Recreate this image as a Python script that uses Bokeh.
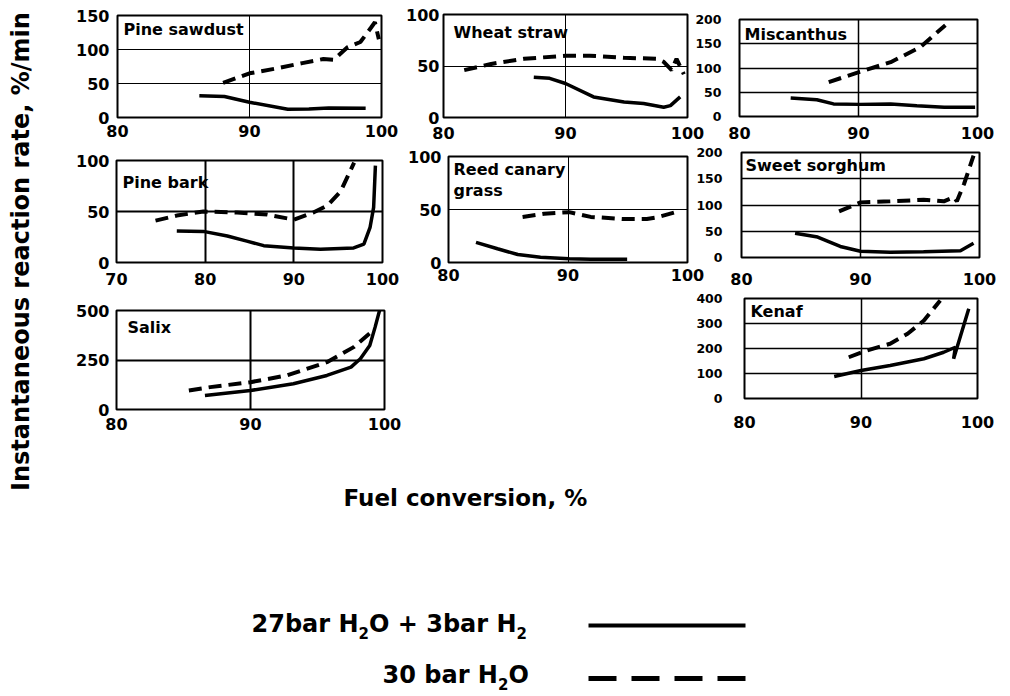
import math
from bokeh.plotting import figure
from bokeh.models import Range1d, FixedTicker, Column
from bokeh.core.properties import value
from bokeh.embed import file_html
from bokeh.resources import INLINE

FONT = "DejaVu Sans"

# ---------------- data (fuel conversion %, rate %/min) ----------------
# "mix" = 27bar H2O + 3bar H2 (solid), "h2o" = 30 bar H2O (dashed)
pine_sawdust_mix_x = [86.2, 88.1, 90.0, 92.9, 94.5, 96.0, 98.8]
pine_sawdust_mix_y = [32, 31, 22.5, 12, 12.5, 14, 13.7]
pine_sawdust_h2o_x = [88.0, 90.0, 92.0, 94.0, 95.6, 96.4, 97.4, 98.4, 99.2, 99.5, 99.8]
pine_sawdust_h2o_y = [51, 65, 72, 80, 86, 85, 103, 111, 132, 140, 115]

wheat_straw_mix_x = [87.4, 88.7, 90.0, 92.3, 94.8, 96.4, 98.05, 98.6, 99.4]
wheat_straw_mix_y = [39, 38, 33, 20, 15, 13.5, 10, 11.5, 20]
wheat_straw_h2o_x = [81.7, 83.9, 86.6, 90.0, 92.0, 94.8, 97.5, 98.05, 98.7, 99.1, 99.7]
wheat_straw_h2o_y = [46, 52, 57, 60, 60, 58, 57, 54, 46, 57, 42]

miscanthus_mix_x = [84.3, 86.5, 87.9, 90.1, 92.7, 94.9, 97.2, 99.8]
miscanthus_mix_y = [38, 34.5, 26, 25, 26, 22, 19, 19]
miscanthus_h2o_x = [87.5, 90.1, 92.7, 95.2, 96.3, 97.3]
miscanthus_h2o_y = [71, 92, 112, 143, 167, 188]

pine_bark_mix_x = [76.8, 79.8, 82.5, 84.7, 86.6, 90.0, 93.0, 96.75, 97.9, 98.6, 99.0, 99.2]
pine_bark_mix_y = [31, 30.5, 26, 21, 16.5, 14.3, 13, 14.3, 18, 34.5, 54, 95]
pine_bark_h2o_x = [74.4, 76.8, 79.8, 83.6, 87.0, 90.0, 92.2, 93.8, 95.3, 96.8]
pine_bark_h2o_y = [41, 46, 50, 49, 47, 42, 49, 56, 70, 98]

reed_mix_x = [82.3, 84.1, 85.8, 87.7, 90.1, 91.9, 94.95]
reed_mix_y = [19, 13, 7.5, 5, 3.5, 3, 3]
reed_h2o_x = [86.2, 88.0, 90.1, 91.9, 94.7, 96.6, 97.4, 99.0]
reed_h2o_y = [43, 46, 47.5, 43, 41, 41, 42.5, 47.5]

sorghum_mix_x = [84.5, 86.4, 88.3, 90.0, 92.5, 95.3, 98.4, 99.5]
sorghum_mix_y = [46, 39, 21, 12, 10, 11, 13, 27]
sorghum_h2o_x = [88.2, 90.0, 92.5, 95.3, 97.0, 97.85, 98.1, 98.7, 99.5]
sorghum_h2o_y = [88, 105, 107, 110, 107, 115, 107, 140, 194]

salix_mix_x = [86.6, 90.0, 93.2, 95.7, 97.5, 98.2, 98.9, 99.3, 99.65]
salix_mix_y = [71, 96, 130, 172, 214, 256, 323, 416, 505]
salix_h2o_x = [85.4, 87.0, 90.0, 92.7, 95.7, 97.7, 98.9]
salix_h2o_y = [96, 113, 138, 172, 239, 315, 385]

kenaf_mix_x = [87.7, 90.0, 92.5, 95.4, 97.1, 98.1, 97.95, 99.25]
kenaf_mix_y = [88, 112, 132, 159, 185, 205, 159, 359]
kenaf_h2o_x = [88.95, 90.5, 92.5, 94.0, 95.4, 96.8]
kenaf_h2o_y = [165, 192, 219, 259, 312, 392]

panel_titles = ["Pine sawdust", "Wheat straw", "Miscanthus", "Pine bark",
                "Reed canary\ngrass", "Sweet sorghum", "Salix", "Kenaf"]
x_title = "Fuel conversion, %"
y_title = "Instantaneous reaction rate, %/min"

# ---------------- layout spec ----------------
BL, BR, BT, BB = 60, 25, 12, 42

panels = [
    dict(mix=(pine_sawdust_mix_x, pine_sawdust_mix_y), h2o=(pine_sawdust_h2o_x, pine_sawdust_h2o_y),
         xr=(80, 100), yr=(0, 150), xt=[80, 90, 100], yt=[0, 50, 100, 150],
         frame=(117, 15, 381, 117), ys="16px", yso=2, xso=1, gw=1),
    dict(mix=(wheat_straw_mix_x, wheat_straw_mix_y), h2o=(wheat_straw_h2o_x, wheat_straw_h2o_y),
         xr=(80, 100), yr=(0, 100), xt=[80, 90, 100], yt=[0, 50, 100],
         frame=(443, 14, 687, 117), ys="16px", yso=-2, xso=3, gw=1),
    dict(mix=(miscanthus_mix_x, miscanthus_mix_y), h2o=(miscanthus_h2o_x, miscanthus_h2o_y),
         xr=(80, 100), yr=(0, 200), xt=[80, 90, 100], yt=[0, 50, 100, 150, 200],
         frame=(739, 19, 977, 116), ys="12.5px", yso=12, xso=4, gw=1.5),
    dict(mix=(pine_bark_mix_x, pine_bark_mix_y), h2o=(pine_bark_h2o_x, pine_bark_h2o_y),
         xr=(70, 100), yr=(0, 100), xt=[70, 80, 90, 100], yt=[0, 50, 100],
         frame=(116, 160, 382, 262), ys="16px", yso=1, xso=4, gw=2),
    dict(mix=(reed_mix_x, reed_mix_y), h2o=(reed_h2o_x, reed_h2o_y),
         xr=(80, 100), yr=(0, 100), xt=[80, 90, 100], yt=[0, 50, 100],
         frame=(448, 156, 687, 262), ys="16px", yso=1, xso=0, gw=1),
    dict(mix=(sorghum_mix_x, sorghum_mix_y), h2o=(sorghum_h2o_x, sorghum_h2o_y),
         xr=(80, 100), yr=(0, 200), xt=[80, 90, 100], yt=[0, 50, 100, 150, 200],
         frame=(741, 152, 979, 257), ys="12.5px", yso=13, xso=9, gw=1.5),
    dict(mix=(salix_mix_x, salix_mix_y), h2o=(salix_h2o_x, salix_h2o_y),
         xr=(80, 100), yr=(0, 500), xt=[80, 90, 100], yt=[0, 250, 500],
         frame=(116, 310, 384, 409), ys="16px", yso=1, xso=2, gw=2),
    dict(mix=(kenaf_mix_x, kenaf_mix_y), h2o=(kenaf_h2o_x, kenaf_h2o_y),
         xr=(80, 100), yr=(0, 400), xt=[80, 90, 100], yt=[0, 100, 200, 300, 400],
         frame=(744, 298, 977, 398), ys="12.5px", yso=16, xso=11, gw=1.5),
]

# ---------------- background figure (titles, legend) ----------------
# Canvas is 1010 wide with borders BL/BR (the column aligns left/right borders),
# shifted left by BL so that its frame starts at page x = 0 and maps page pixels 1:1.
FW = 1010 - BL - BR
bg = figure(width=1010, height=696, x_range=Range1d(0, FW), y_range=Range1d(696, 0),
            x_axis_type=None, y_axis_type=None, output_backend="svg", toolbar_location=None,
            min_border_left=BL, min_border_right=BR, min_border_top=0, min_border_bottom=0,
            outline_line_color=None, background_fill_color="white",
            border_fill_color="white", title=None)
bg.grid.visible = False


def txt(x, y, s, size_px, align="left", angle=0.0):
    # y is the text baseline in page pixels; drawn with a "middle" baseline
    bg.text(x=[x], y=[y - 0.36 * size_px], text=[s], text_font=value(FONT), text_font_style="bold",
            text_font_size=f"{size_px}px", text_align=align, text_baseline="middle",
            angle=angle, text_color="black")


# panel titles (page pixel positions: left, baseline)
title_pos = [(123, 35), (453, 38), (744, 40), (122, 188), (453, 175), (745, 171), (127, 333), (750, 317)]
for t, (tx, ty) in zip(panel_titles, title_pos):
    for i, ln in enumerate(t.split("\n")):
        txt(tx, ty + i * 21, ln, 16)

# axis titles
bg.text(x=[20], y=[251], text=[y_title], text_font=value(FONT), text_font_style="bold",
        text_font_size="24px", text_align="center", text_baseline="middle",
        angle=math.pi / 2, text_color="black")
txt(343, 506, x_title, 23)

# legend
txt(251, 632, "27bar H", 24)
txt(358, 638, "2", 15)
txt(368.5, 632, "O + 3bar H", 24)
txt(516, 638, "2", 15)
txt(382, 683, "30 bar H", 24)
txt(497.5, 689, "2", 15)
txt(508, 683, "O", 24)
bg.segment(x0=[588], y0=[625], x1=[745], y1=[625], line_color="black", line_width=4)
bg.segment(x0=[588], y0=[678], x1=[745], y1=[678], line_color="black", line_width=5,
           line_dash="28 15")
bg.styles = {"position": "absolute", "left": f"{-BL}px", "top": "0px"}

children = [bg]
for spec in panels:
    L, T, R, B = spec["frame"]
    p = figure(x_range=Range1d(*spec["xr"]), y_range=Range1d(*spec["yr"]),
               frame_width=R - L, frame_height=B - T,
               min_border_left=BL, min_border_right=BR, min_border_top=BT, min_border_bottom=BB,
               output_backend="svg", toolbar_location=None,
               background_fill_color=None, border_fill_color=None,
               outline_line_color="black", outline_line_width=2)
    p.xaxis.ticker = FixedTicker(ticks=spec["xt"])
    p.yaxis.ticker = FixedTicker(ticks=spec["yt"])
    for ax in (p.xaxis, p.yaxis):
        ax.axis_line_color = None
        ax.major_tick_line_color = None
        ax.minor_tick_line_color = None
        ax.major_label_text_font = FONT
        ax.major_label_text_font_style = "bold"
        ax.major_label_text_color = "black"
    p.xaxis.major_label_text_font_size = "16px"
    p.yaxis.major_label_text_font_size = spec["ys"]
    p.xaxis.major_label_standoff = spec["xso"]
    p.yaxis.major_label_standoff = spec["yso"]
    p.grid.grid_line_color = "black"
    p.grid.grid_line_width = spec["gw"]
    p.grid.grid_line_alpha = 1.0
    mx, my = spec["mix"]
    hx, hy = spec["h2o"]
    p.line(hx, hy, line_color="black", line_width=4, line_dash="13 7")
    p.line(mx, my, line_color="black", line_width=3.5)
    p.styles = {"position": "absolute", "left": f"{L - BL}px", "top": f"{T - BT}px"}
    children.append(p)

root = Column(children=children, width=1010, height=696,
              styles={"position": "relative", "overflow": "hidden"})

open("out.html", "w").write(file_html(root, INLINE))
